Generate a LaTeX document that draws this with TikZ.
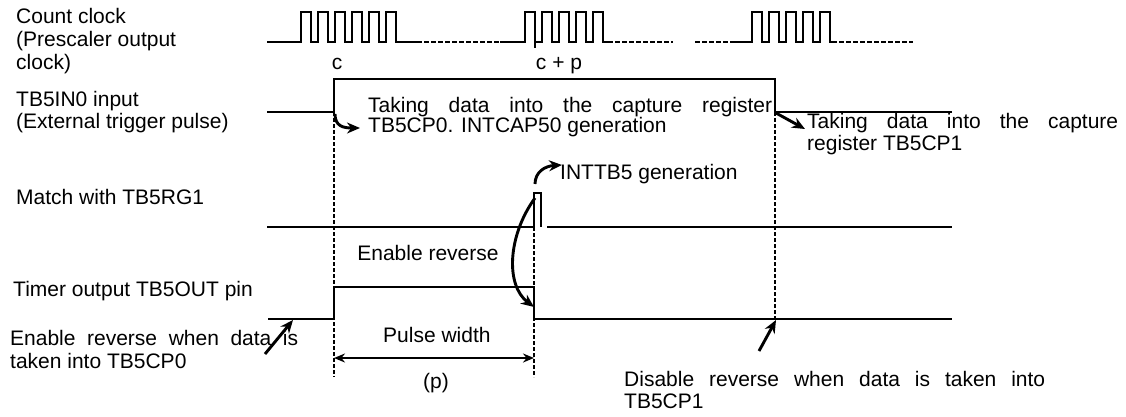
\documentclass[tikz,border=0pt]{standalone}
\usepackage{fontspec}
\setmainfont{Liberation Sans}
\usetikzlibrary{arrows.meta}
\begin{document}
\begin{tikzpicture}[x=1pt,y=-1pt,
  sig/.style={line width=1.4pt},
  dsh/.style={line width=1.6pt, dash pattern=on 4pt off 2pt},
  cdsh/.style={line width=1.7pt, dash pattern=on 5pt off 2pt},
  bigarrow/.style={line width=2.9pt, -{Stealth[length=13pt,width=11pt]}},
  lbl/.style={anchor=base west, inner sep=0pt, font=\fontsize{21}{23}\selectfont},
  clbl/.style={anchor=base, inner sep=0pt, font=\fontsize{21}{23}\selectfont}]
\useasboundingbox (0,0) rectangle (1126,416);
% ---------- count clock ----------
\draw[sig] (267,42) -- (301,42)
  foreach \k in {0,...,5} { -- ({301+17*\k},42) -- ({301+17*\k},12) -- ({311+17*\k},12) -- ({311+17*\k},42) }
  -- (417,42);
\draw[cdsh] (417,42) -- (500,42);
\draw[sig] (500,42) -- (525,42)
  foreach \k in {0,...,4} { -- ({525+17*\k},42) -- ({525+17*\k},12) -- ({535+17*\k},12) -- ({535+17*\k},42) }
  -- (608,42);
\draw[sig] (535,42) -- (535,48);
\draw[cdsh] (608,42) -- (673,42);
\draw[cdsh] (695,42) -- (732,42);
\draw[sig] (732,42) -- (752,42)
  foreach \k in {0,...,4} { -- ({752+17*\k},42) -- ({752+17*\k},12) -- ({762+17*\k},12) -- ({762+17*\k},42) }
  -- (832,42);
\draw[cdsh] (832,42) -- (913,42);
\node[clbl] (lc) at (337,69) {c};
\node[clbl] (lcp) at (559,69) {c + p};
% ---------- signals ----------
\draw[sig] (267,112) -- (334,112) -- (334,79) -- (775,79) -- (775,112) -- (952,112);
\draw[sig] (267,227) -- (534,227) -- (534,193) -- (541,193) -- (541,227);
\draw[sig] (547,227) -- (952,227);
\draw[sig] (268,319) -- (334,319) -- (334,287) -- (534,287) -- (534,319) -- (952,319);
\draw[dsh] (334,112) -- (334,377);
\draw[dsh] (534,227) -- (534,377);
\draw[dsh] (775,112) -- (775,319);
% ---------- pulse width ----------
\coordinate (pwl) at (334,358);
\coordinate (pwr) at (534,358);
\draw[line width=2.2pt, {Stealth[length=11pt,width=9pt]}-{Stealth[length=11pt,width=9pt]}] (pwl) -- (pwr);
\node[lbl] (pw) at (383,342) {Pulse width};
\node[lbl] (pp) at (423,388) {(p)};
\node[clbl] (er) at (428,260) {Enable reverse};
% ---------- left labels ----------
\node[lbl] (t1) at (16,23) {Count clock};
\node[lbl] (t2) at (16,46) {(Prescaler output};
\node[lbl] (t3) at (16,69) {clock)};
\node[lbl] (t4) at (16,106) {TB5IN0 input};
\node[lbl] (t5) at (16,128) {(External trigger pulse)};
\node[lbl] (t6) at (16,204) {Match with TB5RG1};
\node[lbl] (t7) at (13,296) {Timer output TB5OUT pin};
\node[lbl] (t8) at (10,345) {\makebox[288pt][s]{Enable reverse when data is}};
\node[lbl] (t9) at (10,368) {taken into TB5CP0};
% ---------- annotations ----------
\node[lbl] (a1) at (368,112) {\makebox[404pt][s]{Taking data into the capture register}};
\node[lbl] (a2) at (368,132) {TB5CP0. INTCAP50 generation};
\node[lbl] (a3) at (560,179) {INTTB5 generation};
\node[lbl] (a4) at (807,128) {\makebox[311pt][s]{Taking data into the capture}};
\node[lbl] (a5) at (807,150) {register TB5CP1};
\node[lbl] (a6) at (624,386) {\makebox[421pt][s]{Disable reverse when data is taken into}};
\node[lbl] (a7) at (624,408) {TB5CP1};
% ---------- arrows ----------
\coordinate (s1) at (335,114); \coordinate (e1) at (360,128);
\draw[bigarrow] (s1) .. controls (335,126) and (343,128) .. (e1);
\coordinate (s2) at (535,184); \coordinate (e2) at (562,165);
\draw[bigarrow] (s2) .. controls (535,172) and (545,166) .. (e2);
\coordinate (s3) at (535,198); \coordinate (e3) at (534,307);
\draw[bigarrow] (s3) .. controls (508,235) and (505,285) .. (e3);
\coordinate (s4) at (776,113); \coordinate (e4) at (805,129);
\draw[bigarrow] (s4) -- (e4);
\coordinate (s5) at (265,354); \coordinate (e5) at (293,320);
\draw[bigarrow] (s5) -- (e5);
\coordinate (s6) at (759,351); \coordinate (e6) at (776,320);
\draw[bigarrow] (s6) -- (e6);
\end{tikzpicture}
\end{document}
